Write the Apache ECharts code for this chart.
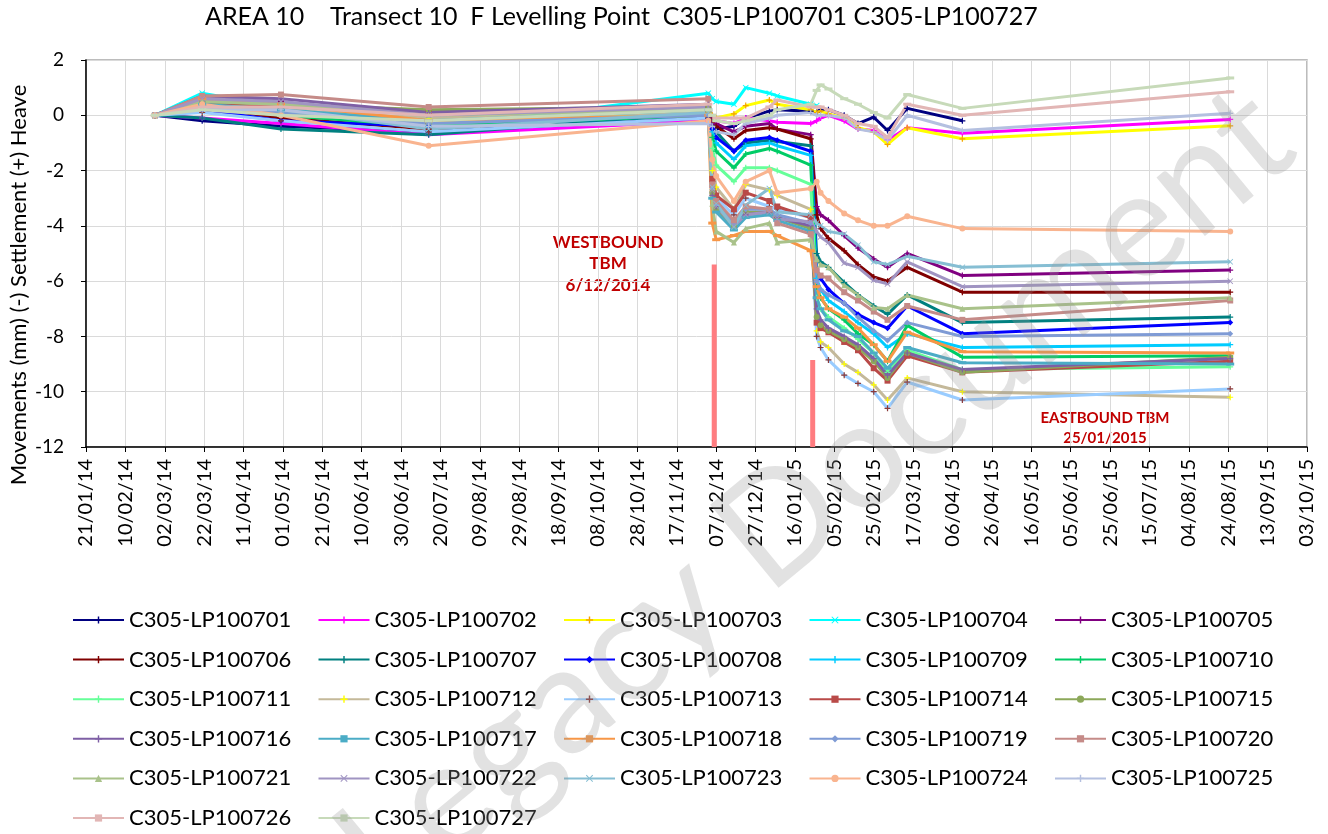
<!DOCTYPE html>
<html>
<head>
<meta charset="utf-8">
<script src="https://cdn.jsdelivr.net/npm/echarts@6/dist/echarts.min.js"></script>
<style>
  html, body { margin: 0; padding: 0; background: #fff; }
  #chart { width: 1328px; height: 834px; }
</style>
</head>
<body>
<div id="chart"></div>
<script>
// survey dates (shared by every levelling point)
var dates = ['2014-02-25', '2014-03-21', '2014-04-30', '2014-07-14', '2014-12-03', '2014-12-05',
    '2014-12-07', '2014-12-16', '2014-12-22', '2015-01-03', '2015-01-07', '2015-01-24',
    '2015-01-27', '2015-01-29', '2015-02-02', '2015-02-10', '2015-02-17', '2015-02-25',
    '2015-03-04', '2015-03-14', '2015-04-11', '2015-08-25'];

var pointNames = ['C305-LP100701', 'C305-LP100702', 'C305-LP100703', 'C305-LP100704', 'C305-LP100705',
    'C305-LP100706', 'C305-LP100707', 'C305-LP100708', 'C305-LP100709', 'C305-LP100710',
    'C305-LP100711', 'C305-LP100712', 'C305-LP100713', 'C305-LP100714', 'C305-LP100715',
    'C305-LP100716', 'C305-LP100717', 'C305-LP100718', 'C305-LP100719', 'C305-LP100720',
    'C305-LP100721', 'C305-LP100722', 'C305-LP100723', 'C305-LP100724', 'C305-LP100725',
    'C305-LP100726', 'C305-LP100727'];

// movements in mm, one value per survey date
var lp100701 = [0, -0.2, -0.4, -0.6, -0.1, -0.3, -0.5, -0.4, -0.1, 0.15, 0.2, 0.15, 0.1, 0.2, 0.2, 0.0, -0.3, -0.07, -0.55, 0.25, -0.2, null];
var lp100702 = [0, -0.1, -0.3, -0.7, -0.2, -0.3, -0.2, -0.3, -0.1, -0.2, -0.25, -0.3, -0.2, -0.1, 0.0, -0.2, -0.5, -0.55, -0.9, -0.45, -0.65, -0.15];
var lp100703 = [0, 0.2, 0.1, -0.3, 0.2, 0.0, -0.1, 0.05, 0.35, 0.55, 0.4, 0.2, 0.1, 0.15, 0.05, -0.1, -0.45, -0.6, -1.05, -0.45, -0.85, -0.38];
var lp100704 = [0, 0.8, 0.3, -0.5, 0.8, 0.6, 0.5, 0.4, 1.0, 0.8, 0.7, 0.4, 0.35, null, null, null, null, null, null, null, null, null];
var lp100705 = [0, 0.6, 0.5, -0.3, 0.3, -0.1, -0.3, -0.6, -0.4, -0.3, -0.5, -0.7, -3.3, -3.6, -3.8, -4.35, -4.8, -5.2, -5.5, -5.0, -5.8, -5.6];
var lp100706 = [0, 0.3, -0.1, -0.5, 0.2, -0.2, -0.4, -0.85, -0.55, -0.45, -0.5, -0.85, -3.6, -4.1, -4.45, -4.9, -5.4, -5.85, -6.0, -5.5, -6.4, -6.4];
var lp100707 = [0, -0.1, -0.5, -0.7, 0.1, -0.4, -0.6, -1.3, -1.0, -0.9, -0.95, -1.1, -5.0, -5.3, -5.5, -6.05, -6.5, -6.9, -7.2, -6.5, -7.5, -7.3];
var lp100708 = [0, 0.2, -0.2, -0.4, 0.0, -0.5, -0.8, -1.3, -0.9, -0.8, -0.9, -1.3, -5.6, -5.9, -6.3, -6.8, -7.2, -7.5, -7.7, -6.9, -7.9, -7.5];
var lp100709 = [0, 0.5, 0.2, -0.2, 0.1, -0.6, -1.0, -1.6, -1.1, -1.0, -1.1, -1.45, -5.9, -6.3, -6.7, -7.1, -7.5, -7.9, -8.4, -7.9, -8.4, -8.3];
var lp100710 = [0, 0.3, 0.0, -0.4, 0.0, -0.8, -1.3, -1.9, -1.4, -1.2, -1.3, -1.8, -6.2, -6.6, -7.0, -7.4, -7.9, -8.3, -8.9, -7.6, -8.75, -8.7];
var lp100711 = [0, 0.4, 0.1, -0.3, 0.1, -1.2, -1.8, -2.4, -1.9, -1.9, -2.0, -2.5, -6.6, -7.0, -7.3, -7.7, -8.1, -8.6, -9.3, -8.5, -9.2, -9.1];
var lp100712 = [0, 0.3, 0.2, -0.1, 0.1, -2.0, -2.6, -3.4, -2.5, -2.7, -2.9, -3.4, -7.8, -8.2, -8.4, -9.0, -9.3, -9.75, -10.3, -9.5, -10.0, -10.2];
var lp100713 = [0, 0.1, -0.2, -0.6, -0.1, -2.4, -3.0, -3.6, -3.0, -3.3, -3.4, -3.7, -8.0, -8.4, -8.85, -9.4, -9.7, -10.0, -10.6, -9.65, -10.3, -9.9];
var lp100714 = [0, 0.4, 0.3, 0.1, 0.2, -2.3, -2.9, -3.4, -2.8, -3.1, -3.3, -3.7, -7.5, -7.7, -7.85, -8.2, -8.5, -9.15, -9.6, -8.7, -9.3, -8.9];
var lp100715 = [0, 0.5, 0.4, 0.2, 0.3, -2.8, -3.4, -4.0, -3.5, -3.5, -3.7, -4.1, -7.3, -7.6, -7.8, -8.1, -8.4, -8.9, -9.5, -8.6, -9.3, -8.75];
var lp100716 = [0, 0.7, 0.6, 0.1, 0.4, -2.9, -3.3, -3.9, -3.6, -3.5, -3.7, -4.0, -7.0, -7.4, -7.7, -8.0, -8.3, -8.8, -9.4, -8.6, -9.2, -8.8];
var lp100717 = [0, 0.4, 0.2, -0.2, 0.2, -3.0, -3.5, -4.15, -3.7, -3.6, -3.8, -4.2, -6.6, -7.0, -7.4, -7.8, -8.0, -8.6, -9.15, -8.4, -8.95, -9.0];
var lp100718 = [0, 0.6, 0.4, -0.2, 0.0, -3.9, -4.5, -4.35, -4.2, -4.2, -4.35, -4.9, -6.2, -6.6, -7.0, -7.3, -7.7, -8.3, -8.9, -7.85, -8.55, -8.6];
var lp100719 = [0, 0.3, 0.1, -0.3, 0.0, -2.6, -3.2, -3.9, -3.4, -3.4, -3.6, -3.9, -6.0, -6.3, -6.5, -6.8, -7.3, -7.8, -8.15, -7.5, -8.0, -7.9];
var lp100720 = [0, 0.7, 0.75, 0.3, 0.6, -2.5, -3.1, -3.8, -3.3, -3.4, -3.9, -4.3, -5.6, -5.8, -5.9, -6.4, -6.7, -7.1, -7.4, -6.9, -7.4, -6.7];
var lp100721 = [0, 0.5, 0.4, 0.0, 0.2, -3.2, -4.2, -4.6, -4.1, -3.9, -4.6, -4.5, -5.2, -5.4, -5.5, -6.15, -6.5, -6.95, -7.0, -6.5, -7.0, -6.6];
var lp100722 = [0, 0.6, 0.5, 0.0, 0.3, -2.7, -3.3, -4.0, -3.6, -3.5, -3.75, -3.85, -4.2, -4.4, -4.6, -5.35, -5.5, -5.97, -6.1, -5.3, -6.2, -6.0];
var lp100723 = [0, 0.3, 0.2, -0.5, 0.1, -2.6, -3.2, -4.05, -3.25, -2.65, -3.5, -3.6, -3.9, -4.0, -4.2, -4.3, -4.7, -5.3, -5.4, -5.1, -5.5, -5.3];
var lp100724 = [0, 0.4, 0.0, -1.1, -0.2, -1.6, -2.2, -3.1, -2.4, -2.0, -2.8, -2.65, -2.4, -2.8, -3.1, -3.55, -3.8, -4.0, -4.0, -3.65, -4.1, -4.2];
var lp100725 = [0, 0.2, 0.2, -0.4, -0.3, -0.4, -0.6, -0.7, -0.3, -0.1, 0.0, 0.1, 0.0, 0.0, 0.0, -0.1, -0.5, -0.6, -0.9, 0.0, -0.55, 0.07];
var lp100726 = [0, 0.3, 0.3, 0.0, 0.4, 0.0, -0.1, -0.1, -0.1, 0.3, 0.55, 0.3, 0.3, 0.3, 0.2, 0.0, -0.3, -0.4, -0.8, 0.4, 0.0, 0.85];
var lp100727 = [0, 0.2, 0.0, -0.2, 0.2, 0.0, -0.2, -0.3, -0.2, 0.0, 0.2, 0.4, 0.9, 1.1, 0.95, 0.6, 0.4, 0.1, -0.1, 0.75, 0.25, 1.35];

var pointValues = [lp100701, lp100702, lp100703, lp100704, lp100705, lp100706, lp100707, lp100708, lp100709,
    lp100710, lp100711, lp100712, lp100713, lp100714, lp100715, lp100716, lp100717, lp100718, lp100719,
    lp100720, lp100721, lp100722, lp100723, lp100724, lp100725, lp100726, lp100727];

// TBM passing markers: date, top of bar (mm)
var tbmDates = ['2014-12-06', '2015-01-25'];
var tbmTops = [-5.4, -8.85];

var yTicks = [-12, -10, -8, -6, -4, -2, 0, 2];

var lineColors = ['#000080', '#FF00FF', '#FFFF00', '#00FFFF', '#800080', '#800000', '#008080', '#0000FF', '#00CCFF',
    '#00CC66', '#66FF99', '#C4B99A', '#99CCFF', '#B94A48', '#8CA85A', '#7E5FA5', '#4BACC6', '#F79646', '#7F9BD5',
    '#C58B88', '#A9C28A', '#A094C2', '#86BED3', '#F9B48F', '#B4C0E0', '#E2B6B5', '#C7DAB9'];
var markColors = ['#000080', '#FF00FF', '#F5A300', '#00FFFF', '#800080', '#800000', '#008080', '#0000FF', '#00CCFF',
    '#00CC66', '#66FF99', '#FFFF00', '#8B3A3A', '#B94A48', '#8CA85A', '#7E5FA5', '#4BACC6', '#F79646', '#7F9BD5',
    '#C58B88', '#A9C28A', '#A094C2', '#86BED3', '#F9B48F', '#B4C0E0', '#E2B6B5', '#C7DAB9'];

var PLUS = 'path://M4,0H6V4H10V6H6V10H4V6H0V4H4Z';
var CROSS = 'path://M1,0L5,4L9,0L10,1L6,5L10,9L9,10L5,6L1,10L0,9L4,5L0,1Z';
var DASH = 'path://M0,0H10V3H0Z';
var markers = [PLUS, PLUS, PLUS, CROSS, PLUS, PLUS, PLUS, 'diamond', PLUS, PLUS, PLUS, PLUS, PLUS, 'rect', 'circle',
    PLUS, DASH, DASH, 'diamond', 'rect', 'triangle', CROSS, CROSS, 'circle', PLUS, DASH, DASH];

function toSerial(s) {
    var p = s.split('-');
    return Date.UTC(+p[0], +p[1] - 1, +p[2]) / 86400000 + 25569;
}
function serialLabel(v) {
    var d = new Date((v - 25569) * 86400000);
    var dd = ('0' + d.getUTCDate()).slice(-2);
    var mm = ('0' + (d.getUTCMonth() + 1)).slice(-2);
    var yy = ('' + d.getUTCFullYear()).slice(-2);
    return dd + '/' + mm + '/' + yy;
}

var series = [];
for (var i = 0; i < tbmDates.length; i++) {
    series.push({
        name: 'TBM' + i,
        type: 'line',
        silent: true,
        symbol: 'none',
        z: 1,
        lineStyle: { width: 5, color: '#FF7C80' },
        data: [[toSerial(tbmDates[i]), tbmTops[i]], [toSerial(tbmDates[i]), -12]]
    });
}
for (var k = 0; k < pointNames.length; k++) {
    var pts = [];
    for (var j = 0; j < dates.length; j++) {
        if (pointValues[k][j] !== null) pts.push([toSerial(dates[j]), pointValues[k][j]]);
    }
    var sym = markers[k];
    series.push({
        name: pointNames[k],
        type: 'line',
        data: pts,
        symbol: sym,
        symbolSize: sym === DASH ? [8, 3] : 6,
        showAllSymbol: true,
        lineStyle: { width: 3, color: lineColors[k] },
        itemStyle: { color: markColors[k] },
        emphasis: { disabled: true }
    });
}

// legend laid out as 5 fixed columns, one vertical legend per column
var legends = [];
for (var c = 0; c < 5; c++) {
    var colNames = pointNames.filter(function (n, idx) { return idx % 5 === c; });
    legends.push({
        data: colNames,
        orient: 'vertical',
        left: 72 + c * 245.5,
        top: 609,
        padding: 0,
        itemWidth: 51,
        itemHeight: 9,
        itemGap: 17.6,
        textStyle: { fontSize: 22, color: '#000', fontFamily: 'Lato' }
    });
}

var dom = document.getElementById('chart');
var myChart = echarts.init(dom);
var option = {
    backgroundColor: '#ffffff',
    animation: false,
    textStyle: { fontFamily: 'Lato' },
    title: {
        text: 'AREA 10    Transect 10  F Levelling Point  C305-LP100701 C305-LP100727',
        left: 205,
        top: 4,
        padding: 0,
        textStyle: { fontSize: 25, fontWeight: 'normal', color: '#000', fontFamily: 'Lato' }
    },
    grid: {
        left: 86,
        right: 21,
        top: 60,
        bottom: 387,
        show: true,
        borderColor: '#A6A6A6',
        borderWidth: 1.5
    },
    legend: legends,
    xAxis: {
        type: 'value',
        min: toSerial('2014-01-21'),
        max: toSerial('2015-10-03'),
        interval: 20,
        axisLine: { onZero: false, lineStyle: { color: '#000', width: 1.5 } },
        axisTick: { show: true, length: 5, lineStyle: { color: '#000' } },
        splitLine: { show: true, lineStyle: { color: '#DADADA', width: 1 } },
        axisLabel: {
            rotate: 90,
            fontSize: 20,
            color: '#000',
            margin: 12,
            formatter: serialLabel
        }
    },
    yAxis: {
        type: 'value',
        min: yTicks[0],
        max: yTicks[yTicks.length - 1],
        interval: 2,
        axisLine: { show: true, lineStyle: { color: '#000', width: 1.5 } },
        axisTick: { show: true, length: 5, lineStyle: { color: '#000' } },
        splitLine: { show: true, lineStyle: { color: '#DADADA', width: 1 } },
        axisLabel: { fontSize: 19, color: '#000', margin: 22 }
    },
    graphic: [
        {
            type: 'text', x: 19, y: 285, rotation: Math.PI / 2,
            style: { text: 'Movements (mm) (-) Settlement (+) Heave', fill: '#000', font: '22px Lato', align: 'center', verticalAlign: 'middle' }
        },
        {
            type: 'text', x: 608, y: 264,
            style: { text: 'WESTBOUND\nTBM\n6/12/2014', fill: '#C00000', font: 'bold 17px Lato', align: 'center', verticalAlign: 'middle', lineHeight: 21.5 }
        },
        {
            type: 'text', x: 1105, y: 428,
            style: { text: 'EASTBOUND TBM\n25/01/2015', fill: '#C00000', font: 'bold 15px Lato', align: 'center', verticalAlign: 'middle', lineHeight: 20 }
        },
        {
            type: 'text', x: 815, y: 495, rotation: 0.69, z: 100, silent: true,
            style: { text: 'Legacy Document', fill: 'rgba(150,150,150,0.28)', font: '150px Lato', align: 'center', verticalAlign: 'middle' }
        }
    ],
    series: series
};
if (option && typeof option === "object") {
    myChart.setOption(option, true);
}
</script>
</body>
</html>
